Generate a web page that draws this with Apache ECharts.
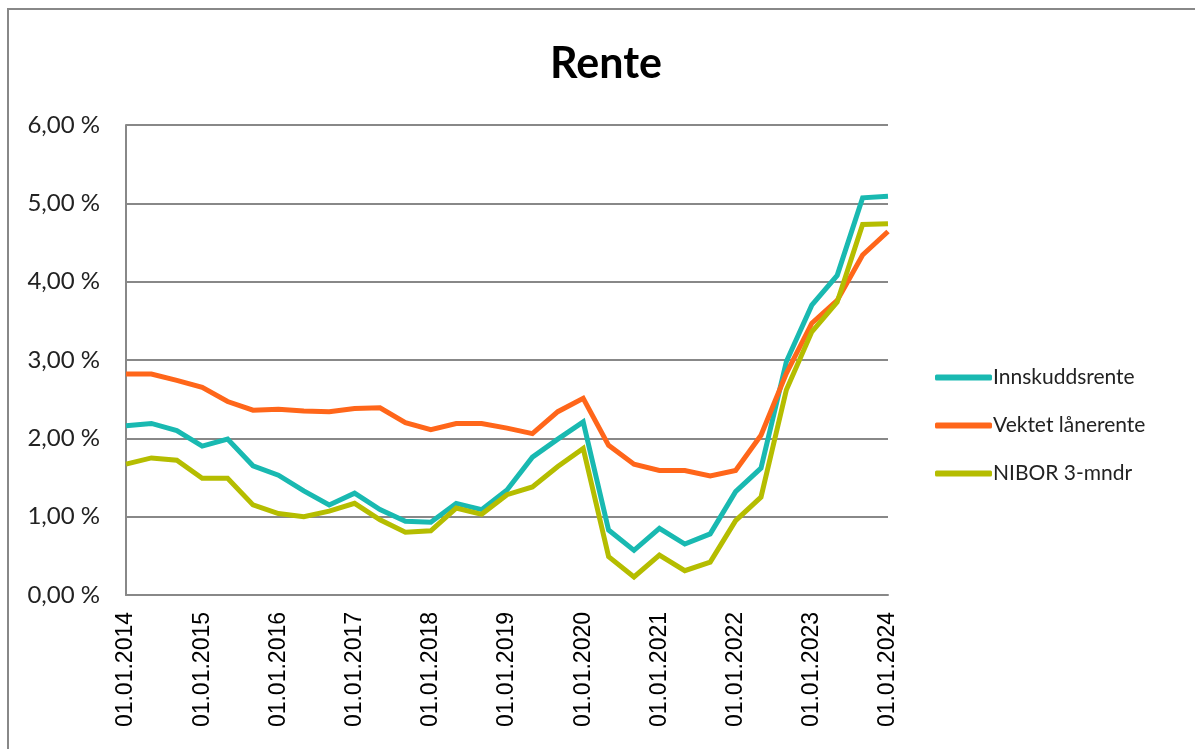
<!DOCTYPE html>
<html>
<head>
<meta charset="utf-8">
<script src="https://cdn.jsdelivr.net/npm/echarts@6/dist/echarts.min.js"></script>
<style>
  html, body { margin: 0; padding: 0; background: #fff; }
  #chart { width: 1195px; height: 749px; }
</style>
</head>
<body>
<div id="chart"></div>
<script>
// every 4 months, 01.01.2014 - 01.01.2024
const dates = []
for (let y = 2014; y <= 2024; y++) {
  for (const m of ['01', '05', '09']) {
    if (y === 2024 && m !== '01') break
    dates.push('01.' + m + '.' + y)
  }
}

const innskudd = [2.16, 2.19, 2.10, 1.90, 1.99, 1.65, 1.53, 1.33, 1.15, 1.30, 1.09, 0.94,
  0.93, 1.17, 1.09, 1.34, 1.76, 1.99, 2.21, 0.83, 0.57, 0.85,
  0.65, 0.78, 1.32, 1.62, 2.98, 3.70, 4.08, 5.07, 5.09]
const laanerente = [2.82, 2.82, 2.74, 2.65, 2.47, 2.36, 2.37, 2.35, 2.34, 2.38, 2.39, 2.20,
  2.11, 2.19, 2.19, 2.13, 2.06, 2.34, 2.51, 1.91, 1.67, 1.59,
  1.59, 1.52, 1.59, 2.04, 2.83, 3.47, 3.76, 4.34, 4.64]
const nibor = [1.67, 1.75, 1.72, 1.49, 1.49, 1.15, 1.04, 1.00, 1.07, 1.17, 0.96, 0.80,
  0.82, 1.11, 1.03, 1.28, 1.38, 1.64, 1.87, 0.49, 0.23, 0.51,
  0.31, 0.42, 0.95, 1.25, 2.62, 3.36, 3.74, 4.73, 4.74]

const chart = echarts.init(document.getElementById('chart'))

const line = (name, data, color) => ({
  name,
  type: 'line',
  data,
  showSymbol: false,
  symbol: 'none',
  color,
  lineStyle: { width: 5, color, join: 'miter' },
})

chart.setOption({
  animation: false,
  // outer chart frame
  graphic: [
    {
      type: 'rect',
      shape: { x: 8, y: 9, width: 1200, height: 760 },
      style: { fill: 'none', stroke: '#888', lineWidth: 2 },
      silent: true,
    },
  ],
  title: {
    text: 'Rente',
    left: 601,
    top: 38,
    textAlign: 'center',
    textStyle: { fontFamily: 'Lato', fontWeight: 'bold', fontSize: 43, color: '#000' },
  },
  legend: {
    orient: 'vertical',
    left: 930,
    top: 362,
    itemGap: 27,
    icon: 'roundRect',
    itemWidth: 57,
    itemHeight: 6,
    textStyle: { fontFamily: 'Lato', fontSize: 21, color: '#222', padding: [0, 0, 0, -4] },
    data: ['Innskuddsrente', 'Vektet lånerente', 'NIBOR 3-mndr'],
  },
  grid: { left: 126, top: 125, right: 307, bottom: 154, containLabel: false },
  xAxis: {
    type: 'category',
    data: dates,
    boundaryGap: false,
    axisLine: { lineStyle: { color: '#888', width: 2 } },
    axisTick: { show: false },
    axisLabel: {
      interval: 2,
      rotate: 90,
      margin: 17,
      fontFamily: 'Liberation Sans',
      fontSize: 23,
      color: '#000',
    },
  },
  yAxis: {
    type: 'value',
    min: 0,
    max: 6,
    interval: 1,
    axisLine: { show: true, lineStyle: { color: '#888', width: 2 } },
    axisTick: { show: false },
    splitLine: { lineStyle: { color: '#888', width: 2 } },
    axisLabel: {
      margin: 26,
      fontFamily: 'Lato',
      fontSize: 24,
      color: '#222',
      formatter: v => v.toFixed(2).replace('.', ',') + ' %',
    },
  },
  series: [
    line('Innskuddsrente', innskudd, '#19B9B1'),
    line('Vektet lånerente', laanerente, '#FF661A'),
    line('NIBOR 3-mndr', nibor, '#B5BD00'),
  ],
})
</script>
</body>
</html>
